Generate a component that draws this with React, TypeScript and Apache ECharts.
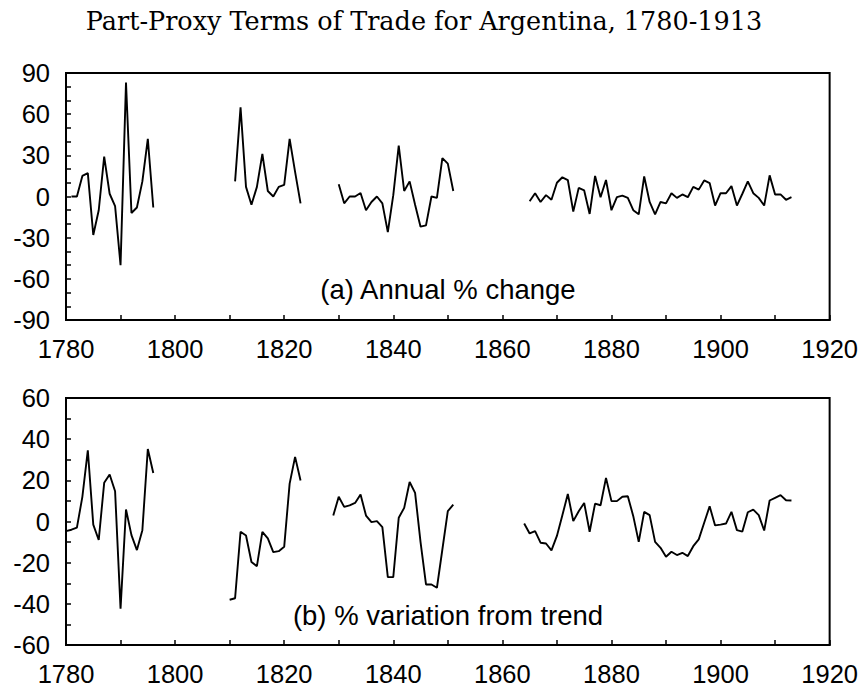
import React, { useEffect, useRef } from 'react';
import * as echarts from 'echarts';

const titleText = 'Part-Proxy Terms of Trade for Argentina, 1780-1913';
const labelA = '(a) Annual % change';
const labelB = '(b) % variation from trend';

// (a) Annual % change — segment start years and values
const annualStarts = [1781, 1811, 1830, 1865];
const annualSeg1 = [0, 0, 15, 17, -28, -10, 29, 2, -7, -50, 83, -12, -8, 11, 42, -8];
const annualSeg2 = [11, 65, 7, -6, 7, 31, 4, 0, 7, 8.5, 42, 18, -5];
const annualSeg3 = [9, -5, 0, 0, 2.5, -10, -4, 0, -5, -26, 1, 37, 4, 11, -6, -22, -21, 0, -1, 28, 24, 4];
const annualSeg4 = [
  -3.4, 2.4, -4, 1, -2.4, 10, 14, 12, -11, 6.3, 4.4, -12.7, 15, -0.5, 12, -10, -0.5, 0.7, -1, -10,
  -13, 14.6, -4, -13, -4, -5, 2.4, -1, 1.5, -0.5, 7, 5, 11.7, 9.8, -6.6, 2.4, 2.4, 7.6, -6.6, 2,
  11, 2.4, -1, -6.6, 15.4, 1.5, 1.5, -2.4, -0.5,
];

// (b) % variation from trend — segment start years and values
const trendStarts = [1780, 1810, 1829, 1864];
const trendSeg1 = [-4.7, -4, -3, 12, 34.6, -1.5, -9, 18.8, 22.8, 14.7, -42.4, 5.8, -6.6, -13.9, -4.2, 35.2, 23.6];
const trendSeg2 = [-38, -37.3, -5, -6.8, -19.7, -21.7, -5, -8.2, -14.9, -14.4, -12.3, 18.4, 31.4, 19.9];
const trendSeg3 = [2.9, 12, 7.1, 7.8, 9, 13.1, 2.9, -0.3, 0.2, -2.7, -27, -27, 1.8, 6.6, 19.2, 13.9, -10, -30.6, -30.6, -32.2, -13.6, 5, 8.2];
const trendSeg4 = [
  -1, -5.8, -4.7, -10.3, -10.7, -14, -7, 3, 13.4, 0.2, 5, 9, -5, 8.7, 7.9, 21.2, 9.9, 9.9, 12, 12.3,
  2.6, -9.9, 4.7, 3.1, -9.9, -12.8, -17.1, -14.7, -16.3, -15.2, -16.8, -12, -8.7, -0.6, 7.4, -1.9, -1.5, -1, 4.7, -4.2,
  -4.9, 4.5, 5.8, 3.1, -4.4, 10.2, 11.5, 12.8, 10.3, 10.2,
];

const xMin = 1780;
const xMax = 1920;

function buildData(starts: number[], segs: number[][]) {
  const out: any[] = [];
  segs.forEach((seg, i) => {
    if (i > 0) out.push([starts[i] - 1, '-']);
    seg.forEach((v, j) => out.push([starts[i] + j, v]));
  });
  return out;
}

const sans = '"Liberation Sans", Arial, Helvetica, sans-serif';

export default function App() {
  const ref = useRef<HTMLDivElement>(null);
  useEffect(() => {
    if (!ref.current) return;
    const chart = echarts.init(ref.current, undefined, { renderer: 'svg' });
    const axisLine = { show: true, onZero: false, lineStyle: { color: '#000', width: 2 } };
    const axisTick = { show: true, inside: true, length: 5, lineStyle: { color: '#000', width: 1.5 } };
    const labelBase = { color: '#000', fontFamily: sans, fontSize: 25.5 };
    const xAxisFor = (gridIndex: number) => ({
      gridIndex,
      type: 'value',
      min: xMin,
      max: xMax,
      interval: 10,
      axisLine,
      axisTick,
      splitLine: { show: false },
      axisLabel: {
        ...labelBase,
        margin: 16,
        formatter: (v: number) => (v % 20 === 0 ? String(v) : ''),
      },
    });
    const gridLeft = 66;
    const gridWidth = 766;
    const gridHeight = 247;
    chart.setOption({
      animation: false,
      backgroundColor: '#fff',
      grid: [
        { left: gridLeft, top: 73, width: gridWidth, height: gridHeight, show: true, borderColor: '#000', borderWidth: 2, containLabel: false },
        { left: gridLeft, top: 398, width: gridWidth, height: gridHeight, show: true, borderColor: '#000', borderWidth: 2, containLabel: false },
      ],
      xAxis: [xAxisFor(0), xAxisFor(1)],
      yAxis: [
        {
          gridIndex: 0,
          type: 'value',
          min: -90,
          max: 90,
          interval: 10,
          axisLine,
          axisTick,
          splitLine: { show: false },
          axisLabel: { ...labelBase, margin: 16, formatter: (v: number) => (v % 30 === 0 ? String(v) : '') },
        },
        {
          gridIndex: 1,
          type: 'value',
          min: -60,
          max: 60,
          interval: 10,
          axisLine,
          axisTick,
          splitLine: { show: false },
          axisLabel: { ...labelBase, margin: 16, formatter: (v: number) => (v % 20 === 0 ? String(v) : '') },
        },
      ],
      series: [
        {
          type: 'line',
          xAxisIndex: 0,
          yAxisIndex: 0,
          data: buildData(annualStarts, [annualSeg1, annualSeg2, annualSeg3, annualSeg4]),
          showSymbol: false,
          symbol: 'none',
          connectNulls: false,
          lineStyle: { color: '#000', width: 1.9 },
          itemStyle: { color: '#000' },
        },
        {
          type: 'line',
          xAxisIndex: 1,
          yAxisIndex: 1,
          data: buildData(trendStarts, [trendSeg1, trendSeg2, trendSeg3, trendSeg4]),
          showSymbol: false,
          symbol: 'none',
          connectNulls: false,
          lineStyle: { color: '#000', width: 1.9 },
          itemStyle: { color: '#000' },
        },
      ],
      graphic: [
        {
          type: 'text',
          x: 424,
          y: 21,
          style: {
            text: titleText,
            fill: '#000',
            fontFamily: '"DejaVu Serif", serif',
            fontSize: 25.5,
            align: 'center',
            verticalAlign: 'middle',
            textAlign: 'center',
            textVerticalAlign: 'middle',
          },
        },
        {
          type: 'text',
          x: 448,
          y: 289,
          style: {
            text: labelA,
            fill: '#000',
            fontFamily: sans,
            fontSize: 27.5,
            align: 'center',
            verticalAlign: 'middle',
            textAlign: 'center',
            textVerticalAlign: 'middle',
          },
        },
        {
          type: 'text',
          x: 448,
          y: 615,
          style: {
            text: labelB,
            fill: '#000',
            fontFamily: sans,
            fontSize: 27.5,
            align: 'center',
            verticalAlign: 'middle',
            textAlign: 'center',
            textVerticalAlign: 'middle',
          },
        },
      ],
    });
    return () => chart.dispose();
  }, []);
  return <div ref={ref} style={{ position: 'absolute', left: 0, top: 0, width: 861, height: 688 }} />;
}
